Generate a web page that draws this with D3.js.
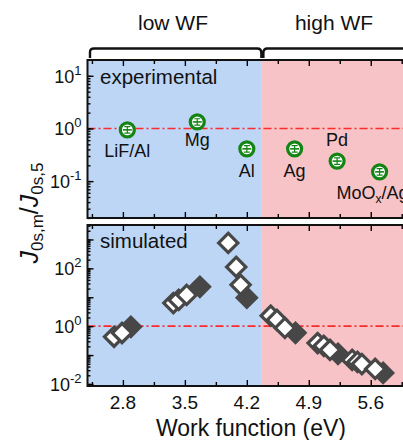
<!DOCTYPE html>
<html>
<head>
<meta charset="utf-8">
<script src="https://cdn.jsdelivr.net/npm/d3@7"></script>
<style>
  body { margin: 0; background: #fff; }
  svg { display: block; font-family: Arial, "Liberation Sans", sans-serif; }
</style>
</head>
<body>
<svg id="chart" width="403" height="440"></svg>
<script>
// Experimental ratios per contact metal
const expNames = ["LiF/Al", "Mg", "Al", "Ag", "Pd", "MoOx/Ag"];
const expWF    = [2.85, 3.64, 4.20, 4.74, 5.22, 5.70];
const expRatio = [0.94, 1.33, 0.41, 0.41, 0.24, 0.15];

// Simulated ratios: open diamonds
const simOpenWF    = [2.70, 2.79, 3.37, 3.43, 3.52, 3.99, 4.08, 4.13, 4.47, 4.54, 4.63, 5.00, 5.07, 5.14, 5.39, 5.45, 5.50, 5.65];
const simOpenRatio = [0.43, 0.58, 6.3, 8.1, 12, 760, 112, 27, 2.3, 1.65, 0.87, 0.26, 0.21, 0.15, 0.068, 0.058, 0.049, 0.033];
// Simulated ratios: filled diamonds
const simFillWF    = [2.89, 3.67, 4.20, 4.75, 5.23, 5.74];
const simFillRatio = [0.95, 23, 9.7, 0.59, 0.11, 0.024];

const xTicks = [2.8, 3.5, 4.2, 4.9, 5.6];
const xMinorTicks = [2.45, 3.15, 3.85, 4.55, 5.25, 5.95];
const topYTicks = [-1, 0, 1];      // decades labelled, upper panel
const botYTicks = [-2, 0, 2];      // decades labelled, lower panel
const regionNames = ["low WF", "high WF"];
const regionEdges = [2.4, 4.37, 6.1];

const svg = d3.select("#chart");
const W = 403, H = 440;
const left = 87.5, right = 415;

const x = d3.scaleLinear().domain([2.4, 6.1]).range([left, right]);
const yTop = d3.scaleLog().domain([Math.pow(10, -1.7), Math.pow(10, 1.3)]).range([218, 60]);
const yBot = d3.scaleLog().domain([Math.pow(10, -2.07), Math.pow(10, 3.5)]).range([386, 225]);

const blue = "#bdd6f6", pink = "#f7c3c6";
const gray = "#474747";
const green = "#148414";

function minorValues(scale) {
  const [a, b] = scale.domain();
  const out = [];
  for (let k = Math.floor(Math.log10(a)) - 1; k <= Math.ceil(Math.log10(b)); k++) {
    for (let m = 1; m <= 9; m++) {
      const v = m * Math.pow(10, k);
      if (v >= a && v <= b) out.push(v);
    }
  }
  return out;
}

function drawPanel(y, majors, labelled) {
  const g = svg.append("g");
  const [y0, y1] = y.range();
  // background regions
  g.selectAll("rect.bg").data(regionNames).join("rect")
    .attr("x", (d, i) => x(regionEdges[i]))
    .attr("y", y1)
    .attr("width", (d, i) => x(regionEdges[i + 1]) - x(regionEdges[i]))
    .attr("height", y0 - y1)
    .attr("fill", (d, i) => i === 0 ? blue : pink);

  // reference line at ratio 1
  g.append("line")
    .attr("x1", left).attr("x2", right)
    .attr("y1", y(1)).attr("y2", y(1))
    .attr("stroke", "#ff2a2a").attr("stroke-width", 1.6)
    .attr("stroke-dasharray", "8,3,2,3");

  // ticks (inward)
  const axes = [
    d3.axisLeft(y).tickValues(minorValues(y)).tickSize(-3),
    d3.axisLeft(y).tickValues(majors.map(k => Math.pow(10, k))).tickSize(-6),
  ];
  axes.forEach(a => {
    const ax = g.append("g").attr("transform", `translate(${left},0)`)
      .call(a.tickFormat("").tickSizeOuter(0));
    ax.select(".domain").remove();
    ax.selectAll("line").attr("stroke", "#000").attr("stroke-width", 1.4);
  });
  [[d3.axisTop, y1], [d3.axisBottom, y0]].forEach(([fn, pos]) => {
    [[xTicks, -6], [xMinorTicks, -4]].forEach(([vals, size]) => {
      const ax = g.append("g").attr("transform", `translate(0,${pos})`)
        .call(fn(x).tickValues(vals).tickSize(size).tickFormat("").tickSizeOuter(0));
      ax.select(".domain").remove();
      ax.selectAll("line").attr("stroke", "#000").attr("stroke-width", 1.4);
    });
  });

  // y tick labels as powers of ten
  const lab = g.selectAll("text.ylab").data(labelled).join("text")
    .attr("x", left - 6).attr("y", d => y(Math.pow(10, d)) + 7)
    .attr("text-anchor", "end").attr("font-size", 18).attr("fill", "#111");
  lab.append("tspan").text("10");
  lab.append("tspan").attr("dy", -8).attr("font-size", 13).text(d => String(d));

  // frame
  g.append("rect").attr("x", left).attr("y", y1)
    .attr("width", right - left + 10).attr("height", y0 - y1)
    .attr("fill", "none").attr("stroke", "#111").attr("stroke-width", 2);
  return g;
}

const gTop = drawPanel(yTop, [-1, 0, 1], topYTicks);
const gBot = drawPanel(yBot, [-2, -1, 0, 1, 2, 3], botYTicks);

// experimental markers
const expData = expNames.map((n, i) => ({ name: n, wf: expWF[i], r: expRatio[i] }));
const mk = gTop.selectAll("g.exp").data(expData).join("g")
  .attr("transform", d => `translate(${x(d.wf)},${yTop(d.r)})`);
mk.append("circle").attr("r", 7).attr("fill", "#fff").attr("stroke", green).attr("stroke-width", 3.2);
mk.append("line").attr("x1", -4.5).attr("x2", 4.5).attr("y1", 0).attr("y2", 0)
  .attr("stroke", green).attr("stroke-width", 1.6);
mk.append("path").attr("d", "M-3,-3.2 H3 M-3,3.2 H3 M0,-3.2 V3.2")
  .attr("stroke", green).attr("stroke-width", 1.2).attr("fill", "none");

// marker labels
const labelPos = { "LiF/Al": [0, 27], "Mg": [0, 24], "Al": [0, 28], "Ag": [0, 28], "Pd": [0, -15], "MoOx/Ag": [0, 27] };
const lt = gTop.selectAll("text.explab").data(expData).join("text")
  .attr("x", d => x(d.wf) + labelPos[d.name][0])
  .attr("y", d => yTop(d.r) + labelPos[d.name][1])
  .attr("text-anchor", d => d.name === "MoOx/Ag" ? "start" : "middle")
  .attr("dx", d => d.name === "MoOx/Ag" ? -43 : 0)
  .attr("font-size", 18).attr("fill", "#111");
lt.each(function(d) {
  const t = d3.select(this);
  if (d.name === "MoOx/Ag") {
    t.append("tspan").text("MoO");
    t.append("tspan").attr("font-size", 12).attr("dy", 4).text("x");
    t.append("tspan").attr("dy", -4).text("/Ag");
  } else {
    t.text(d.name);
  }
});

// simulated diamonds: filled first, open on top
const diamond = d3.symbol().type(d3.symbolSquare).size(185);
const fillData = simFillWF.map((w, i) => ({ wf: w, r: simFillRatio[i] }));
const openData = simOpenWF.map((w, i) => ({ wf: w, r: simOpenRatio[i] }));
gBot.selectAll("path.fill").data(fillData).join("path")
  .attr("d", diamond)
  .attr("transform", d => `translate(${x(d.wf)},${yBot(d.r)}) rotate(45)`)
  .attr("fill", gray).attr("stroke", gray).attr("stroke-width", 3.2);
gBot.selectAll("path.open").data(openData).join("path")
  .attr("d", diamond)
  .attr("transform", d => `translate(${x(d.wf)},${yBot(d.r)}) rotate(45)`)
  .attr("fill", "#fff").attr("stroke", gray).attr("stroke-width", 3.2);

// panel captions
svg.append("text").attr("x", 100).attr("y", 84).attr("font-size", 20.5).attr("fill", "#111").text("experimental");
svg.append("text").attr("x", 100).attr("y", 248).attr("font-size", 20.5).attr("fill", "#111").text("simulated");

// x tick labels
svg.selectAll("text.xlab").data(xTicks).join("text")
  .attr("x", d => x(d)).attr("y", 409).attr("text-anchor", "middle")
  .attr("font-size", 19).attr("fill", "#111").text(d => d.toFixed(1));

// axis titles
svg.append("text").attr("x", 251).attr("y", 436).attr("text-anchor", "middle")
  .attr("font-size", 23).attr("fill", "#111").text("Work function (eV)");

const yt = svg.append("text").attr("transform", "translate(38,213) rotate(-90)")
  .attr("text-anchor", "middle").attr("font-size", 25).attr("fill", "#111");
yt.append("tspan").attr("font-style", "italic").text("J");
yt.append("tspan").attr("font-size", 17).attr("dy", 5).text("0s,m");
yt.append("tspan").attr("dy", -5).text("/");
yt.append("tspan").attr("font-style", "italic").text("J");
yt.append("tspan").attr("font-size", 17).attr("dy", 5).text("0s,5");

// region bracket and names
const bx = [x(regionEdges[0]) + 2.5, x(regionEdges[1]) - 0.5, x(regionEdges[1]) + 1.5];
const bracket = d3.path();
bracket.moveTo(bx[0], 58); bracket.lineTo(bx[0], 52);
bracket.quadraticCurveTo(bx[0], 48.5, bx[0] + 4, 48.5);
bracket.lineTo(bx[1] - 4, 48.5);
bracket.quadraticCurveTo(bx[1], 48.5, bx[1], 53); bracket.lineTo(bx[1], 58);
bracket.moveTo(bx[2], 58); bracket.lineTo(bx[2], 53);
bracket.quadraticCurveTo(bx[2], 48.5, bx[2] + 4, 48.5);
bracket.lineTo(W + 10, 48.5);
svg.append("path").attr("d", bracket.toString()).attr("fill", "none")
  .attr("stroke", "#111").attr("stroke-width", 2.4);

svg.selectAll("text.region").data(regionNames).join("text")
  .attr("x", (d, i) => i === 0 ? 173 : 334).attr("y", 30)
  .attr("text-anchor", "middle").attr("font-size", 21).attr("fill", "#111")
  .text(d => d);
</script>
</body>
</html>
